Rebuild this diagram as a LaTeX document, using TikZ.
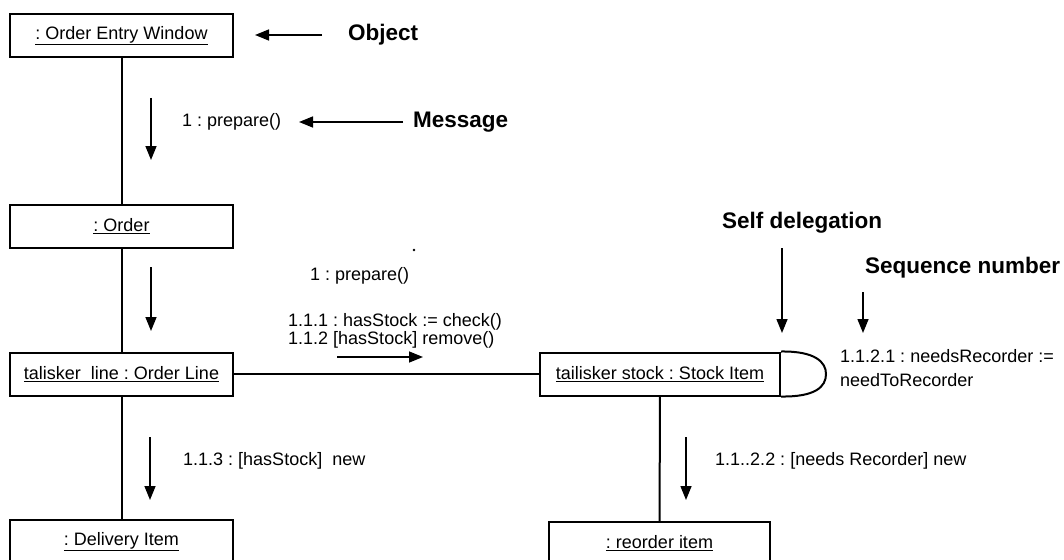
\documentclass[tikz,border=0pt]{standalone}
\usepackage{fontspec}
\setmainfont{Liberation Sans}
\usetikzlibrary{arrows.meta}
\frenchspacing
\tikzset{
  obj/.style={draw, line width=2pt, minimum height=43pt, inner sep=0pt, font=\fontsize{18}{20}\selectfont},
  msg/.style={-{Triangle[length=14pt,width=11pt]}, line width=1.5pt},
  link/.style={line width=2pt},
  lbl/.style={anchor=west, inner sep=0pt, font=\fontsize{18}{20}\selectfont},
  big/.style={anchor=west, inner sep=0pt, font=\fontsize{22.5}{26}\selectfont\bfseries},
}
\begin{document}
\begin{tikzpicture}[x=1pt,y=-1pt]
\clip (0,0) rectangle (1064,559);
\fill[white] (0,0) rectangle (1064,559);
% objects
\node[obj, minimum width=223pt] (oew) at (121.5,35.5) {\underline{: Order Entry Window}};
\node[obj, minimum width=223pt] (order) at (121.5,226) {\underline{: Order}};
\node[obj, minimum width=223pt] (line) at (121.5,374) {\underline{talisker\ \ line : Order Line}};
\node[obj, minimum width=223pt] (deliv) at (121.5,541.5) {\underline{: Delivery Item}};
\node[obj, minimum width=240pt] (stock) at (660,374) {\underline{tailisker stock : Stock Item}};
\node[obj, minimum width=221pt] (reord) at (659.5,543.5) {\underline{: reorder item}};
% links
\draw[link] (oew) -- (order);
\draw[link] (order) -- (line);
\draw[link] (line) -- (deliv);
\draw[link] (line) -- (stock);
\draw[link] (stock) -- (reord);
\coordinate (arcR) at (826,374);
\draw[link] (stock.north east) .. controls (815,351) and (826,362) .. (arcR)
  .. controls (826,387) and (815,397) .. (stock.south east);
% annotation labels
\node[big] (objl) at (348,35) {Object};
\node[big] (mesl) at (413,122) {Message};
\node[big] (selfl) at (722,223) {Self delegation};
\node[big] (seql) at (865,268) {Sequence number};
% message labels
\node[lbl] (m1) at (182,122) {1 : prepare()};
\node[lbl] (m1b) at (310,276) {1 : prepare()};
\node[lbl] (m11) at (288,322) {1.1.1 : hasStock := check()};
\node[lbl] (m12) at (288,340) {1.1.2 [hasStock] remove()};
\node[lbl] (m121) at (840,356) {1.1.2.1 : needsRecorder :=};
\node[lbl] (m121b) at (840,380) {needToRecorder};
\node[lbl] (m13) at (183,461) {1.1.3 : [hasStock]\ \ new};
\node[lbl] (m122) at (715,461) {1.1..2.2 : [needs Recorder] new};
\fill (414,250) circle (1.3pt);
% message arrows
\coordinate (a1s) at (151,98);  \coordinate (a1e) at (151,160);
\coordinate (a2s) at (151,267); \coordinate (a2e) at (151,331);
\coordinate (a3s) at (150,437); \coordinate (a3e) at (150,500);
\coordinate (a4s) at (686,437); \coordinate (a4e) at (686,500);
\coordinate (a5s) at (337,357); \coordinate (a5e) at (423,357);
\draw[msg] (a1s) -- (a1e);
\draw[msg] (a2s) -- (a2e);
\draw[msg] (a3s) -- (a3e);
\draw[msg] (a4s) -- (a4e);
\draw[msg] (a5s) -- (a5e);
% pointer arrows
\coordinate (p1s) at (322,35); \coordinate (p1e) at (255,35);
\draw[msg] (p1s) -- (p1e);
\coordinate (p2s) at (403,122); \coordinate (p2e) at (299,122);
\draw[msg] (p2s) -- (p2e);
\coordinate (p3s) at (782,248); \coordinate (p3e) at (782,333);
\draw[msg] (p3s) -- (p3e);
\coordinate (p4s) at (863,292); \coordinate (p4e) at (863,333);
\draw[msg] (p4s) -- (p4e);
\end{tikzpicture}
\end{document}
